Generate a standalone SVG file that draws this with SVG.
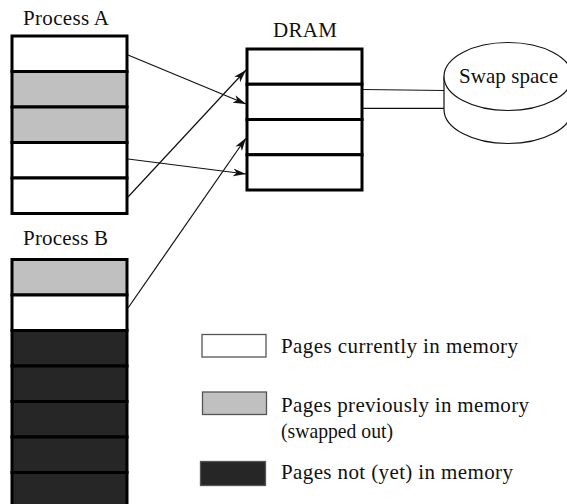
<svg xmlns="http://www.w3.org/2000/svg" width="567" height="504" viewBox="0 0 567 504">
  <style>
    text { font-family: "Liberation Serif", "Times New Roman", serif; font-size: 21px; fill: #111; }
    .page { stroke: #000; stroke-width: 3; }
    .cur { fill: #ffffff; }
    .prev { fill: #c0c0c0; }
    .none { fill: #262626; }
    .key { stroke: #555; stroke-width: 1.3; }
    .thin { fill: none; stroke: #111; stroke-width: 1.2; }
    .arrow { fill: none; stroke: #111; stroke-width: 1.2; marker-end: url(#head); }
  </style>
  <defs>
    <marker id="head" markerUnits="userSpaceOnUse" markerWidth="14" markerHeight="10" refX="13" refY="4" orient="auto" viewBox="0 0 14 8">
      <path d="M0,0 L13,4 L0,8 L3.5,4 Z" fill="#111"/>
    </marker>
  </defs>

  <!-- Process A page table -->
  <g id="process-a">
    <text x="23" y="25" textLength="86" lengthAdjust="spacing">Process A</text>
    <rect class="page cur" x="12" y="36" width="115" height="35.5"/>
    <rect class="page prev" x="12" y="71.5" width="115" height="35.5"/>
    <rect class="page prev" x="12" y="107" width="115" height="35.5"/>
    <rect class="page cur" x="12" y="142.5" width="115" height="35.5"/>
    <rect class="page cur" x="12" y="178" width="115" height="35.5"/>
  </g>

  <!-- Process B page table -->
  <g id="process-b">
    <text x="23" y="245" textLength="85" lengthAdjust="spacing">Process B</text>
    <rect class="page prev" x="12" y="259.5" width="115" height="35.5"/>
    <rect class="page cur" x="12" y="295" width="115" height="35.5"/>
    <rect class="page none" x="12" y="330.5" width="115" height="35.5"/>
    <rect class="page none" x="12" y="366" width="115" height="35.5"/>
    <rect class="page none" x="12" y="401.5" width="115" height="35.5"/>
    <rect class="page none" x="12" y="437" width="115" height="35.5"/>
    <rect class="page none" x="12" y="472.5" width="115" height="35.5"/>
  </g>

  <!-- Physical memory frames -->
  <g id="dram">
    <text x="273" y="37" textLength="64" lengthAdjust="spacing">DRAM</text>
    <rect class="page cur" x="247" y="49" width="115" height="35.25"/>
    <rect class="page cur" x="247" y="84.25" width="115" height="35.25"/>
    <rect class="page cur" x="247" y="119.5" width="115" height="35.25"/>
    <rect class="page cur" x="247" y="154.75" width="115" height="35.25"/>
  </g>

  <!-- Swap space disk -->
  <g id="swap-space">
    <path class="thin" d="M444,76.5 V109.5 A64,34 0 0 0 572,109.5 V76.5" fill="#fff"/>
    <ellipse cx="508" cy="76.5" rx="64" ry="34" fill="#fff" stroke="#111" stroke-width="1.2"/>
    <text x="459" y="83" textLength="99" lengthAdjust="spacing">Swap space</text>
  </g>

  <!-- Legend -->
  <g id="legend-current">
    <rect class="key cur" x="202" y="334.5" width="64" height="22.5"/>
    <text x="281" y="353" textLength="237" lengthAdjust="spacing">Pages currently in memory</text>
  </g>
  <g id="legend-previous">
    <rect class="key prev" x="202.5" y="392" width="64" height="22.5"/>
    <text x="281" y="411.5" textLength="248" lengthAdjust="spacing">Pages previously in memory</text>
    <text x="281" y="437.5" textLength="112" lengthAdjust="spacingAndGlyphs">(swapped out)</text>
  </g>
  <g id="legend-absent">
    <rect class="key none" x="200.5" y="461.5" width="65" height="24"/>
    <text x="281" y="478.5" textLength="232" lengthAdjust="spacing">Pages not (yet) in memory</text>
  </g>

  <!-- Mappings from process pages to frames, and the DRAM–swap link -->
  <g id="connectors">
    <line class="arrow" x1="128" y1="55" x2="246" y2="104"/>
    <line class="arrow" x1="128" y1="197" x2="246" y2="70"/>
    <line class="arrow" x1="128" y1="159" x2="246" y2="174"/>
    <line class="arrow" x1="128" y1="308" x2="246" y2="138"/>
    <line class="thin" x1="363" y1="89.5" x2="444" y2="90.5"/>
    <line class="thin" x1="363" y1="108.3" x2="444" y2="108.3"/>
  </g>
</svg>
